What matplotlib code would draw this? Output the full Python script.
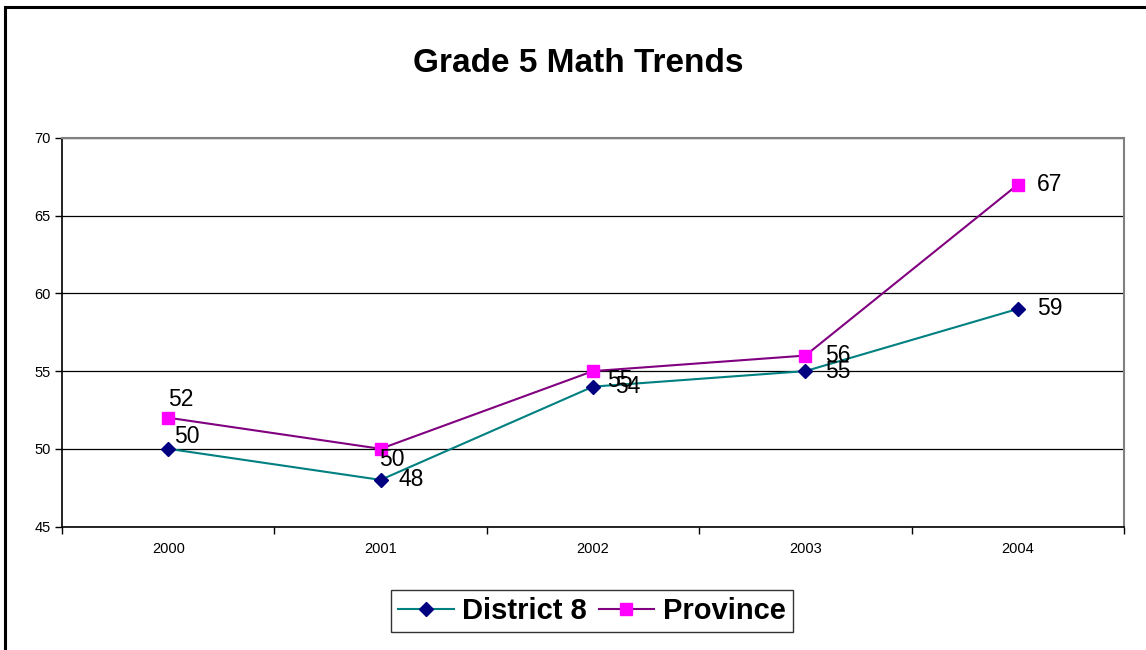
import matplotlib
matplotlib.use("Agg")
import matplotlib.pyplot as plt
from matplotlib.patches import Rectangle

plt.rcParams['font.family'] = ['Liberation Sans', 'DejaVu Sans']

years = ['2000', '2001', '2002', '2003', '2004']
district = [50, 48, 54, 55, 59]
province = [52, 50, 55, 56, 67]

# label offsets in points (dx, dy) for each value label
district_offsets = [(4, 9), (13, 0), (16, 0), (14, 0), (14, 0)]
province_offsets = [(0, 13), (-1, -8), (10, -7), (14, 0), (14, 0)]

fig = plt.figure(figsize=(11.46, 6.5), dpi=100)
ax = fig.add_axes([0.0541, 0.19, 0.9267, 0.5977])

x = list(range(len(years)))

ax.plot(x, district, color='#008080', lw=1.5, marker='D', ms=7.5,
        mfc='#000080', mec='#000080', label='District 8', zorder=3)
ax.plot(x, province, color='#800080', lw=1.5, marker='s', ms=8,
        mfc='#FF00FF', mec='#FF00FF', label='Province', zorder=3)

for i, v in enumerate(district):
    ax.annotate(str(v), (x[i], v), xytext=district_offsets[i],
                textcoords='offset points', fontsize=16.5,
                ha='left', va='center', zorder=4)
for i, v in enumerate(province):
    ax.annotate(str(v), (x[i], v), xytext=province_offsets[i],
                textcoords='offset points', fontsize=16.5,
                ha='left', va='center', zorder=4)

ax.set_xlim(-0.5, 4.5)
ax.set_ylim(45, 70)
ax.set_yticks([45, 50, 55, 60, 65, 70])
ax.set_xticks(x)
ax.set_xticklabels(years)
ax.set_xticks([i - 0.5 for i in range(len(years) + 1)], minor=True)
ax.tick_params(axis='x', which='major', length=0, pad=11, labelsize=10.5)
ax.tick_params(axis='x', which='minor', length=5, width=1, direction='out')
ax.tick_params(axis='y', length=5, width=1, direction='out', pad=3,
               labelsize=10.5)

ax.grid(axis='y', color='black', lw=0.9)
ax.set_axisbelow(True)
for side in ['top', 'right']:
    ax.spines[side].set_color('#808080')
    ax.spines[side].set_linewidth(1.5)
for side in ['left', 'bottom']:
    ax.spines[side].set_color('black')
    ax.spines[side].set_linewidth(1.2)

fig.text(0.505, 0.902, 'Grade 5 Math Trends', ha='center', va='center',
         fontsize=24, fontweight='bold')

leg = ax.legend(loc='center', bbox_to_anchor=(592 / 1146, 1 - 611 / 650),
                bbox_transform=fig.transFigure, ncol=2, frameon=True,
                fancybox=False, prop={'size': 21, 'weight': 'bold'},
                handlelength=1.9, columnspacing=0.4, handletextpad=0.3,
                borderpad=0.25, borderaxespad=0, edgecolor='black')
leg.get_frame().set_linewidth(1.0)

# outer chart border (left and top edges visible)
fig.patches.append(Rectangle((5 / 1146, -0.1), 1.2, 1.1 - 7 / 650,
                             transform=fig.transFigure, fill=False,
                             edgecolor='black', lw=2.2))

fig.savefig('out.png', dpi=100)
